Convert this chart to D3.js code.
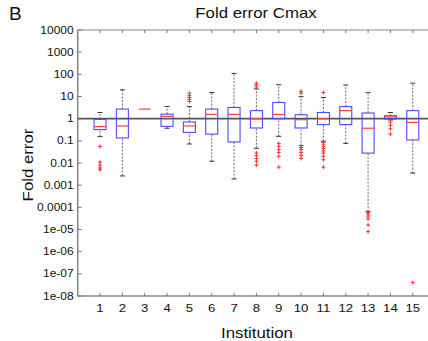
<!DOCTYPE html>
<html><head><meta charset="utf-8">
<script src="https://cdn.jsdelivr.net/npm/d3@7"></script>
<style>body{margin:0;background:#fff}svg{display:block}text{font-family:"Liberation Sans",Arial,sans-serif}</style>
</head><body><svg id="c" width="428" height="341"></svg>
<script>
const institutions = [1,2,3,4,5,6,7,8,9,10,11,12,13,14,15];
const whiskerLow  = [0.155, 0.0026, 2.7, 0.37, 0.072, 0.012, 0.0019, 0.046, 0.16, 0.06, 0.095, 0.077, 6.5e-5, 0.87, 0.0035];
const q1          = [0.32, 0.135, 2.7, 0.45, 0.24, 0.2, 0.089, 0.38, 1.0, 0.38, 0.54, 0.54, 0.028, 0.97, 0.11];
const medians     = [0.44, 0.47, 2.7, 1.27, 0.47, 1.56, 1.56, 1.0, 1.56, 0.9, 1.0, 2.3, 0.37, 1.2, 0.68];
const q3          = [0.93, 2.7, 2.7, 1.6, 0.71, 2.7, 3.2, 2.3, 5.4, 1.5, 1.9, 3.5, 1.8, 1.36, 2.3];
const whiskerHigh = [1.9, 20, 2.7, 3.5, 3.5, 15, 110, 22, 34, 9.8, 9, 33, 15, 1.9, 40];
const outliers = [
  [0.056, 0.011, 0.008, 0.006, 0.005],
  [],
  [],
  [],
  [14, 11, 9, 7.5, 6],
  [],
  [],
  [40, 33, 27, 0.028, 0.022, 0.016, 0.012, 0.008],
  [0.075, 0.055, 0.04, 0.03, 0.02, 0.0065],
  [17, 14, 0.05, 0.04, 0.03, 0.022, 0.016],
  [15, 0.085, 0.07, 0.055, 0.045, 0.035, 0.028, 0.02, 0.014, 0.0065],
  [],
  [6e-5, 5e-5, 4e-5, 3e-5, 1.6e-5, 8e-6],
  [0.7, 0.5, 0.35, 0.2],
  [4e-8]
];
const yTickValues = [1e4,1e3,100,10,1,0.1,0.01,0.001,1e-4,1e-5,1e-6,1e-7,1e-8];
const yTickLabels = ["10000","1000","100","10","1","0.1","0.01","0.001","0.0001","1e-05","1e-06","1e-07","1e-08"];
const titleText = "Fold error Cmax", xLabel = "Institution", yLabel = "Fold error", panel = "B";

const svg = d3.select("#c");
const L = 77.7, R = 435.1, T = 30, B = 296;
const x = d3.scaleLinear().domain([0,16]).range([L,R]);
const y = d3.scaleLog().domain([1e-8,1e4]).range([B,T]);
const sx = 1.2;

function txt(xp, yp, s, size, anchor, rot){
  const g = svg.append("g").attr("transform", `translate(${xp},${yp})` + (rot?` rotate(${rot})`:"") + ` scale(${sx},1)`);
  g.append("text").attr("text-anchor", anchor||"middle").attr("font-size", size).attr("fill","#111").text(s);
}

// frame
const axisCol = "#8a8a8a";
svg.append("line").attr("x1",L).attr("x2",L).attr("y1",T).attr("y2",B).attr("stroke",axisCol).attr("stroke-width",1.6);
svg.append("line").attr("x1",L).attr("x2",R).attr("y1",B).attr("y2",B).attr("stroke",axisCol).attr("stroke-width",1.6);
svg.append("line").attr("x1",L).attr("x2",R).attr("y1",T).attr("y2",T).attr("stroke",axisCol).attr("stroke-width",1.2);

// y ticks
yTickValues.forEach((v,i)=>{
  svg.append("line").attr("x1",L).attr("x2",L+4).attr("y1",y(v)).attr("y2",y(v)).attr("stroke","#777").attr("stroke-width",1);
  txt(L-4, y(v)+3.5, yTickLabels[i], 10, "end");
});
// x ticks
institutions.forEach(d=>{
  svg.append("line").attr("x1",x(d)).attr("x2",x(d)).attr("y1",B).attr("y2",B-3).attr("stroke","#777");
  svg.append("line").attr("x1",x(d)).attr("x2",x(d)).attr("y1",T).attr("y2",T+3).attr("stroke","#777");
  txt(x(d), B+15.5, String(d), 11, "middle");
});

// reference line at 1
svg.append("line").attr("x1",L).attr("x2",R).attr("y1",y(1)).attr("y2",y(1)).attr("stroke","#555").attr("stroke-width",1.6);

const bw = 12, cw = 5;
institutions.forEach((d,i)=>{
  const cx = x(d);
  // whiskers
  [[whiskerLow[i], q1[i]],[q3[i], whiskerHigh[i]]].forEach(([a,b])=>{
    if (a!==b) svg.append("line").attr("x1",cx).attr("x2",cx).attr("y1",y(a)).attr("y2",y(b))
      .attr("stroke","#444").attr("stroke-width",0.8).attr("stroke-dasharray","2,1.5");
  });
  if (whiskerLow[i]!==whiskerHigh[i]) [whiskerLow[i], whiskerHigh[i]].forEach(v=>{
    svg.append("line").attr("x1",cx-cw/2).attr("x2",cx+cw/2).attr("y1",y(v)).attr("y2",y(v)).attr("stroke","#333").attr("stroke-width",1);
  });
  // box
  if (q1[i]!==q3[i]) svg.append("rect").attr("x",cx-bw/2).attr("width",bw).attr("y",y(q3[i])).attr("height",y(q1[i])-y(q3[i]))
    .attr("fill","none").attr("stroke","#4a4aff").attr("stroke-width",1.1);
  // median
  svg.append("line").attr("x1",cx-bw/2).attr("x2",cx+bw/2).attr("y1",y(medians[i])).attr("y2",y(medians[i]))
    .attr("stroke","#ff4040").attr("stroke-width",1.2);
  // outliers
  outliers[i].forEach(v=>{
    const py = y(v);
    svg.append("path").attr("d",`M${cx-2},${py}H${cx+2}M${cx},${py-2}V${py+2}`).attr("stroke","#ff3030").attr("stroke-width",1);
  });
});

// labels
svg.append("text").attr("x",9).attr("y",20).attr("font-size",19).attr("fill","#111").text(panel);
txt(256, 18, titleText, 14, "middle");
txt(257, 338, xLabel, 14, "middle");
txt(33, 165, yLabel, 14, "middle", -90);
</script></body></html>
